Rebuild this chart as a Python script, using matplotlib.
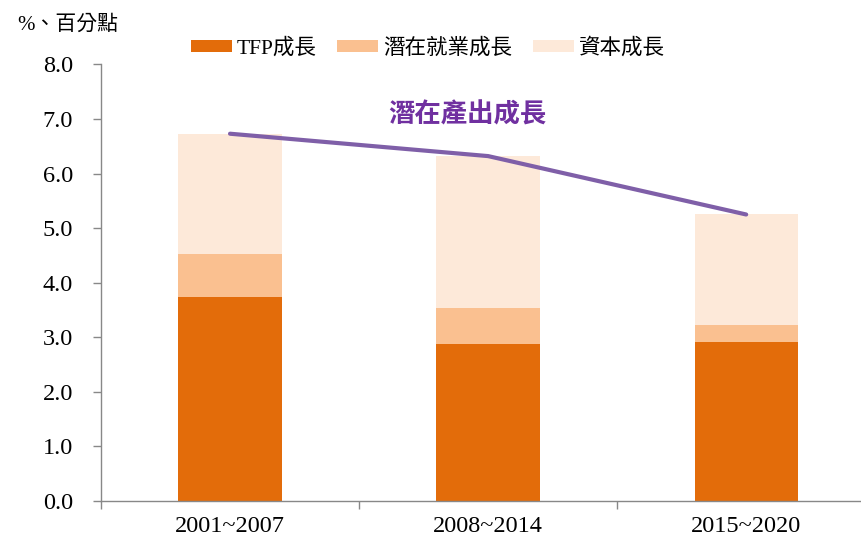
import numpy as np
import matplotlib.pyplot as plt
from matplotlib.patches import Patch

periods = ['2001~2007', '2008~2014', '2015~2020']
tfp = [3.73, 2.88, 2.92]
labor = [0.80, 0.66, 0.30]
capital = [2.20, 2.78, 2.04]
potential = [6.73, 6.32, 5.25]

series_names = ['TFP成長', '潛在就業成長', '資本成長']
colors = ['#E36C0A', '#FAC090', '#FDE9D9']
line_color = '#7F5FA8'
axis_gray = '#888888'

FONTS = ['Liberation Serif', 'Noto Sans CJK TC', 'DejaVu Sans']
plt.rcParams['font.family'] = FONTS

fig = plt.figure(figsize=(8.61, 5.39), dpi=100)
ax = fig.add_axes([0.1173, 0.0705, 0.8827, 0.81])

x = np.arange(len(periods))
w = 0.4
bottom = np.zeros(len(periods))
for vals, c in zip([tfp, labor, capital], colors):
    ax.bar(x, vals, w, bottom=bottom, color=c, edgecolor='none', zorder=2)
    bottom += np.array(vals)

ax.plot(x, potential, color=line_color, lw=3, solid_capstyle='round', zorder=3)
ax.text(0.92, 7.07, '潛在產出成長', color='#7030A0', fontsize=19, fontweight='bold',
        ha='center', va='center', family=['Noto Sans CJK TC', 'DejaVu Sans'])

ax.set_xlim(-0.5, 2.445)
ax.set_ylim(0, 8)
ax.set_yticks(np.arange(0, 8.1, 1))
ax.set_yticklabels([f'{v:.1f}' for v in np.arange(0, 8.1, 1)])

ax.set_xticks([-0.5, 0.5, 1.5])
ax.set_xticklabels([])
ax.set_xticks(x, minor=True)
ax.set_xticklabels(periods, minor=True)
ax.tick_params(axis='x', which='minor', length=0, pad=11, labelsize=17.5)
ax.tick_params(axis='x', which='major', length=6, color=axis_gray, width=1)
ax.tick_params(axis='y', length=6, color=axis_gray, width=1, pad=14, labelsize=17.5)

for s in ['top', 'right']:
    ax.spines[s].set_visible(False)
for s in ['left', 'bottom']:
    ax.spines[s].set_color(axis_gray)
    ax.spines[s].set_linewidth(1)

handles = [Patch(facecolor=c, edgecolor='none') for c in colors]
fig.legend(handles, series_names, loc='center', bbox_to_anchor=(0.497, 0.91), ncol=3,
           frameon=False, fontsize=15.5, handlelength=1.9, handleheight=0.5,
           handletextpad=0.25, columnspacing=0.95)

fig.text(0.02, 0.953, '%、百分點', fontsize=15, ha='left', va='center')

fig.savefig('out.png', dpi=100)
